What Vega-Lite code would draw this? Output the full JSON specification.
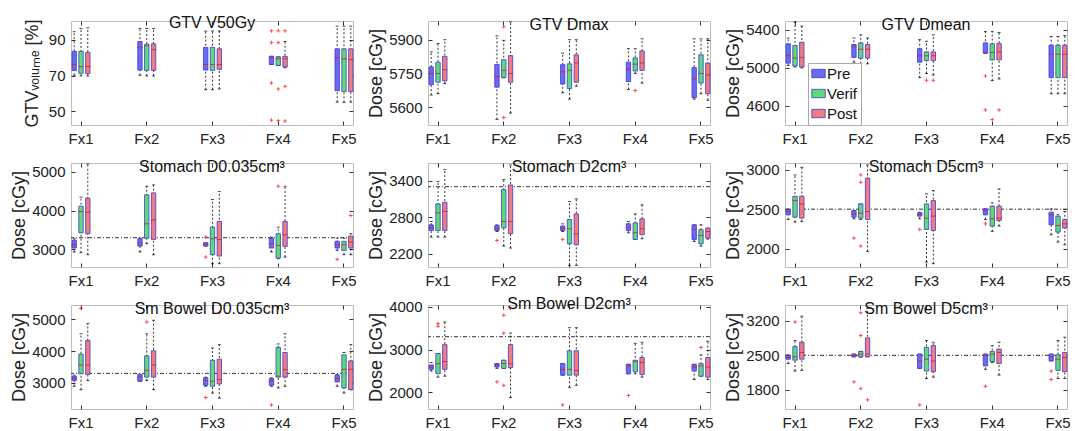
{
"$schema":"https://vega.github.io/schema/vega-lite/v6.json",
"autosize":{"type":"pad"},
"padding":{"left":9,"top":14,"right":0,"bottom":0},
"data":{"values":[
{"k":"b","p":1,"f":"Fx1","g":"Pre","lo":70.2,"q1":72.9,"m":76.1,"q3":83.6,"hi":94.6},
{"k":"b","p":1,"f":"Fx1","g":"Verif","lo":69.8,"q1":71.3,"m":75.0,"q3":83.6,"hi":96.4},
{"k":"b","p":1,"f":"Fx1","g":"Post","lo":69.8,"q1":71.1,"m":75.1,"q3":83.0,"hi":96.8},
{"k":"b","p":1,"f":"Fx2","g":"Pre","lo":70.2,"q1":73.1,"m":85.6,"q3":89.1,"hi":96.4},
{"k":"b","p":1,"f":"Fx2","g":"Verif","lo":69.8,"q1":72.9,"m":86.7,"q3":87.6,"hi":96.4},
{"k":"b","p":1,"f":"Fx2","g":"Post","lo":69.8,"q1":72.9,"m":84.5,"q3":87.8,"hi":96.4},
{"k":"b","p":1,"f":"Fx3","g":"Pre","lo":62.1,"q1":73.1,"m":76.2,"q3":85.8,"hi":94.9},
{"k":"b","p":1,"f":"Fx3","g":"Verif","lo":62.1,"q1":72.9,"m":76.2,"q3":85.8,"hi":95.0},
{"k":"b","p":1,"f":"Fx3","g":"Post","lo":62.5,"q1":73.5,"m":76.1,"q3":85.0,"hi":95.0},
{"k":"b","p":1,"f":"Fx4","g":"Pre","lo":76.2,"q1":76.2,"m":79.9,"q3":80.8,"hi":80.8},
{"k":"b","p":1,"f":"Fx4","g":"Verif","lo":75.7,"q1":75.7,"m":79.5,"q3":80.5,"hi":80.5},
{"k":"b","p":1,"f":"Fx4","g":"Post","lo":74.4,"q1":74.8,"m":79.5,"q3":80.8,"hi":89.1},
{"k":"b","p":1,"f":"Fx5","g":"Pre","lo":55.1,"q1":61.5,"m":79.9,"q3":85.0,"hi":97.7},
{"k":"b","p":1,"f":"Fx5","g":"Verif","lo":55.0,"q1":61.0,"m":79.4,"q3":85.0,"hi":97.7},
{"k":"b","p":1,"f":"Fx5","g":"Post","lo":55.1,"q1":61.0,"m":79.0,"q3":85.0,"hi":97.7},
{"k":"o","p":1,"f":"Fx4","g":"Pre","v":95.1},{"k":"o","p":1,"f":"Fx4","g":"Pre","v":88.5},{"k":"o","p":1,"f":"Fx4","g":"Pre","v":65.8},{"k":"o","p":1,"f":"Fx4","g":"Pre","v":45.0},
{"k":"o","p":1,"f":"Fx4","g":"Verif","v":95.1},{"k":"o","p":1,"f":"Fx4","g":"Verif","v":88.5},{"k":"o","p":1,"f":"Fx4","g":"Verif","v":62.5},{"k":"o","p":1,"f":"Fx4","g":"Verif","v":44.7},
{"k":"o","p":1,"f":"Fx4","g":"Post","v":95.1},{"k":"o","p":1,"f":"Fx4","g":"Post","v":64.0},{"k":"o","p":1,"f":"Fx4","g":"Post","v":44.5},

{"k":"b","p":2,"f":"Fx1","g":"Pre","lo":5654,"q1":5700,"m":5750,"q3":5779,"hi":5846},
{"k":"b","p":2,"f":"Fx1","g":"Verif","lo":5660,"q1":5711,"m":5750,"q3":5800,"hi":5883},
{"k":"b","p":2,"f":"Fx1","g":"Post","lo":5705,"q1":5717,"m":5767,"q3":5826,"hi":5900},
{"k":"b","p":2,"f":"Fx2","g":"Pre","lo":5546,"q1":5689,"m":5736,"q3":5790,"hi":5917},
{"k":"b","p":2,"f":"Fx2","g":"Verif","lo":5731,"q1":5731,"m":5764,"q3":5811,"hi":5897},
{"k":"b","p":2,"f":"Fx2","g":"Post","lo":5574,"q1":5711,"m":5750,"q3":5829,"hi":5979},
{"k":"b","p":2,"f":"Fx3","g":"Pre","lo":5664,"q1":5703,"m":5757,"q3":5789,"hi":5840},
{"k":"b","p":2,"f":"Fx3","g":"Verif","lo":5636,"q1":5683,"m":5764,"q3":5793,"hi":5900},
{"k":"b","p":2,"f":"Fx3","g":"Post","lo":5693,"q1":5711,"m":5797,"q3":5833,"hi":5900},
{"k":"b","p":2,"f":"Fx4","g":"Pre","lo":5679,"q1":5714,"m":5769,"q3":5800,"hi":5860},
{"k":"b","p":2,"f":"Fx4","g":"Verif","lo":5750,"q1":5761,"m":5791,"q3":5819,"hi":5860},
{"k":"b","p":2,"f":"Fx4","g":"Post","lo":5707,"q1":5764,"m":5797,"q3":5850,"hi":5904},
{"k":"b","p":2,"f":"Fx5","g":"Pre","lo":5636,"q1":5643,"m":5726,"q3":5776,"hi":5904},
{"k":"b","p":2,"f":"Fx5","g":"Verif","lo":5660,"q1":5707,"m":5750,"q3":5833,"hi":5904},
{"k":"b","p":2,"f":"Fx5","g":"Post","lo":5631,"q1":5660,"m":5743,"q3":5796,"hi":5904},
{"k":"o","p":2,"f":"Fx2","g":"Verif","v":5957},{"k":"o","p":2,"f":"Fx2","g":"Verif","v":5554},{"k":"o","p":2,"f":"Fx4","g":"Verif","v":5674},

{"k":"b","p":3,"f":"Fx1","g":"Pre","lo":5026,"q1":5050,"m":5128,"q3":5254,"hi":5315},
{"k":"b","p":3,"f":"Fx1","g":"Verif","lo":5009,"q1":5019,"m":5104,"q3":5237,"hi":5485},
{"k":"b","p":3,"f":"Fx1","g":"Post","lo":4999,"q1":5009,"m":5111,"q3":5271,"hi":5441},
{"k":"b","p":3,"f":"Fx2","g":"Pre","lo":5060,"q1":5111,"m":5230,"q3":5247,"hi":5315},
{"k":"b","p":3,"f":"Fx2","g":"Verif","lo":5043,"q1":5101,"m":5196,"q3":5264,"hi":5349},
{"k":"b","p":3,"f":"Fx2","g":"Post","lo":5043,"q1":5104,"m":5196,"q3":5247,"hi":5315},
{"k":"b","p":3,"f":"Fx3","g":"Pre","lo":4897,"q1":5060,"m":5128,"q3":5203,"hi":5298},
{"k":"b","p":3,"f":"Fx3","g":"Verif","lo":4941,"q1":5077,"m":5128,"q3":5169,"hi":5281},
{"k":"b","p":3,"f":"Fx3","g":"Post","lo":4924,"q1":5077,"m":5128,"q3":5169,"hi":5349},
{"k":"b","p":3,"f":"Fx4","g":"Pre","lo":5155,"q1":5155,"m":5162,"q3":5264,"hi":5383},
{"k":"b","p":3,"f":"Fx4","g":"Verif","lo":4866,"q1":5084,"m":5162,"q3":5254,"hi":5383},
{"k":"b","p":3,"f":"Fx4","g":"Post","lo":4883,"q1":5084,"m":5169,"q3":5257,"hi":5373},
{"k":"b","p":3,"f":"Fx5","g":"Pre","lo":4727,"q1":4897,"m":5145,"q3":5240,"hi":5332},
{"k":"b","p":3,"f":"Fx5","g":"Verif","lo":4727,"q1":4897,"m":5145,"q3":5240,"hi":5332},
{"k":"b","p":3,"f":"Fx5","g":"Post","lo":4727,"q1":4897,"m":5145,"q3":5240,"hi":5340},
{"k":"o","p":3,"f":"Fx3","g":"Verif","v":4869},{"k":"o","p":3,"f":"Fx3","g":"Post","v":4869},
{"k":"o","p":3,"f":"Fx4","g":"Pre","v":4914},{"k":"o","p":3,"f":"Fx4","g":"Pre","v":4556},{"k":"o","p":3,"f":"Fx4","g":"Verif","v":4454},{"k":"o","p":3,"f":"Fx4","g":"Post","v":4556},

{"k":"b","p":4,"f":"Fx1","g":"Pre","lo":2932,"q1":3034,"m":3120,"q3":3231,"hi":3274},
{"k":"b","p":4,"f":"Fx1","g":"Verif","lo":2915,"q1":3427,"m":3974,"q3":4111,"hi":4342},
{"k":"b","p":4,"f":"Fx1","g":"Post","lo":2863,"q1":3402,"m":3957,"q3":4316,"hi":5197},
{"k":"b","p":4,"f":"Fx2","g":"Pre","lo":2932,"q1":3085,"m":3171,"q3":3274,"hi":3290},
{"k":"b","p":4,"f":"Fx2","g":"Verif","lo":3145,"q1":3291,"m":3658,"q3":4402,"hi":4624},
{"k":"b","p":4,"f":"Fx2","g":"Post","lo":2863,"q1":3256,"m":3761,"q3":4453,"hi":4658},
{"k":"b","p":4,"f":"Fx3","g":"Pre","lo":3085,"q1":3085,"m":3128,"q3":3171,"hi":3171},
{"k":"b","p":4,"f":"Fx3","g":"Verif","lo":2632,"q1":2863,"m":3274,"q3":3573,"hi":4282},
{"k":"b","p":4,"f":"Fx3","g":"Post","lo":2632,"q1":2829,"m":3256,"q3":3718,"hi":4487},
{"k":"b","p":4,"f":"Fx4","g":"Pre","lo":2932,"q1":3034,"m":3145,"q3":3291,"hi":3316},
{"k":"b","p":4,"f":"Fx4","g":"Verif","lo":2760,"q1":2778,"m":3103,"q3":3402,"hi":3573},
{"k":"b","p":4,"f":"Fx4","g":"Post","lo":2803,"q1":3077,"m":3376,"q3":3718,"hi":4624},
{"k":"b","p":4,"f":"Fx5","g":"Pre","lo":2974,"q1":3034,"m":3120,"q3":3205,"hi":3290},
{"k":"b","p":4,"f":"Fx5","g":"Verif","lo":2863,"q1":2974,"m":3120,"q3":3205,"hi":3290},
{"k":"b","p":4,"f":"Fx5","g":"Post","lo":2863,"q1":3034,"m":3188,"q3":3342,"hi":3402},
{"k":"o","p":4,"f":"Fx3","g":"Pre","v":3316},{"k":"o","p":4,"f":"Fx3","g":"Pre","v":2803},{"k":"o","p":4,"f":"Fx4","g":"Verif","v":4624},{"k":"o","p":4,"f":"Fx5","g":"Pre","v":2744},{"k":"o","p":4,"f":"Fx5","g":"Post","v":3872},
{"k":"r","p":4,"v":3300},

{"k":"b","p":5,"f":"Fx1","g":"Pre","lo":2473,"q1":2582,"m":2631,"q3":2674,"hi":2729},
{"k":"b","p":5,"f":"Fx1","g":"Verif","lo":2473,"q1":2582,"m":2871,"q3":3018,"hi":3384},
{"k":"b","p":5,"f":"Fx1","g":"Post","lo":2473,"q1":2582,"m":2893,"q3":3045,"hi":3580},
{"k":"b","p":5,"f":"Fx2","g":"Pre","lo":2565,"q1":2582,"m":2620,"q3":2663,"hi":2674},
{"k":"b","p":5,"f":"Fx2","g":"Verif","lo":2325,"q1":2625,"m":2729,"q3":3253,"hi":3416},
{"k":"b","p":5,"f":"Fx2","g":"Post","lo":2293,"q1":2527,"m":2729,"q3":3329,"hi":3656},
{"k":"b","p":5,"f":"Fx3","g":"Pre","lo":2565,"q1":2582,"m":2620,"q3":2653,"hi":2690},
{"k":"b","p":5,"f":"Fx3","g":"Verif","lo":2009,"q1":2363,"m":2609,"q3":2762,"hi":3056},
{"k":"b","p":5,"f":"Fx3","g":"Post","lo":2009,"q1":2347,"m":2527,"q3":2854,"hi":3100},
{"k":"b","p":5,"f":"Fx4","g":"Pre","lo":2544,"q1":2582,"m":2636,"q3":2691,"hi":2729},
{"k":"b","p":5,"f":"Fx4","g":"Verif","lo":2434,"q1":2434,"m":2544,"q3":2707,"hi":2854},
{"k":"b","p":5,"f":"Fx4","g":"Post","lo":2445,"q1":2511,"m":2609,"q3":2773,"hi":3002},
{"k":"b","p":5,"f":"Fx5","g":"Pre","lo":2402,"q1":2434,"m":2598,"q3":2674,"hi":2674},
{"k":"b","p":5,"f":"Fx5","g":"Verif","lo":2325,"q1":2363,"m":2500,"q3":2593,"hi":2674},
{"k":"b","p":5,"f":"Fx5","g":"Post","lo":2440,"q1":2456,"m":2565,"q3":2620,"hi":2620},
{"k":"o","p":5,"f":"Fx2","g":"Pre","v":2418},{"k":"o","p":5,"f":"Fx3","g":"Pre","v":2434},
{"k":"r","p":5,"v":3300},

{"k":"b","p":6,"f":"Fx1","g":"Pre","lo":2370,"q1":2429,"m":2471,"q3":2496,"hi":2504},
{"k":"b","p":6,"f":"Fx1","g":"Verif","lo":2336,"q1":2399,"m":2609,"q3":2664,"hi":2933},
{"k":"b","p":6,"f":"Fx1","g":"Post","lo":2345,"q1":2387,"m":2567,"q3":2664,"hi":3029},
{"k":"b","p":6,"f":"Fx2","g":"Pre","lo":2378,"q1":2399,"m":2441,"q3":2483,"hi":2483},
{"k":"b","p":6,"f":"Fx2","g":"Verif","lo":2370,"q1":2387,"m":2450,"q3":2567,"hi":2567},
{"k":"b","p":6,"f":"Fx2","g":"Post","lo":1966,"q1":2370,"m":2471,"q3":2891,"hi":3059},
{"k":"b","p":6,"f":"Fx3","g":"Pre","lo":2378,"q1":2412,"m":2437,"q3":2454,"hi":2462},
{"k":"b","p":6,"f":"Fx3","g":"Verif","lo":1832,"q1":2244,"m":2387,"q3":2567,"hi":2693},
{"k":"b","p":6,"f":"Fx3","g":"Post","lo":1811,"q1":2231,"m":2412,"q3":2609,"hi":2735},
{"k":"b","p":6,"f":"Fx4","g":"Pre","lo":2370,"q1":2429,"m":2483,"q3":2504,"hi":2504},
{"k":"b","p":6,"f":"Fx4","g":"Verif","lo":2219,"q1":2286,"m":2378,"q3":2538,"hi":2580},
{"k":"b","p":6,"f":"Fx4","g":"Post","lo":2286,"q1":2357,"m":2387,"q3":2538,"hi":2756},
{"k":"b","p":6,"f":"Fx5","g":"Pre","lo":2176,"q1":2303,"m":2429,"q3":2462,"hi":2504},
{"k":"b","p":6,"f":"Fx5","g":"Verif","lo":2084,"q1":2210,"m":2294,"q3":2412,"hi":2429},
{"k":"b","p":6,"f":"Fx5","g":"Post","lo":2050,"q1":2261,"m":2315,"q3":2370,"hi":2471},
{"k":"o","p":6,"f":"Fx2","g":"Pre","v":2134},{"k":"o","p":6,"f":"Fx2","g":"Verif","v":2933},{"k":"o","p":6,"f":"Fx2","g":"Verif","v":2840},{"k":"o","p":6,"f":"Fx2","g":"Verif","v":2034},
{"k":"o","p":6,"f":"Fx3","g":"Pre","v":2244},{"k":"o","p":6,"f":"Fx4","g":"Pre","v":2315},
{"k":"r","p":6,"v":2500},

{"k":"b","p":7,"f":"Fx1","g":"Pre","lo":2894,"q1":3074,"m":3138,"q3":3213,"hi":3245},
{"k":"b","p":7,"f":"Fx1","g":"Verif","lo":2787,"q1":3287,"m":3564,"q3":3904,"hi":4543},
{"k":"b","p":7,"f":"Fx1","g":"Post","lo":3074,"q1":3266,"m":3564,"q3":4330,"hi":4862},
{"k":"b","p":7,"f":"Fx2","g":"Pre","lo":3053,"q1":3053,"m":3181,"q3":3266,"hi":3266},
{"k":"b","p":7,"f":"Fx2","g":"Verif","lo":3074,"q1":3181,"m":3394,"q3":3851,"hi":4543},
{"k":"b","p":7,"f":"Fx2","g":"Post","lo":2787,"q1":3181,"m":3564,"q3":4011,"hi":4968},
{"k":"b","p":7,"f":"Fx3","g":"Pre","lo":2894,"q1":2926,"m":3074,"q3":3160,"hi":3181},
{"k":"b","p":7,"f":"Fx3","g":"Verif","lo":2681,"q1":2894,"m":3053,"q3":3713,"hi":4096},
{"k":"b","p":7,"f":"Fx3","g":"Post","lo":2521,"q1":2968,"m":3106,"q3":3745,"hi":4202},
{"k":"b","p":7,"f":"Fx4","g":"Pre","lo":2894,"q1":2926,"m":3074,"q3":3138,"hi":3160},
{"k":"b","p":7,"f":"Fx4","g":"Verif","lo":2840,"q1":3181,"m":3213,"q3":4117,"hi":4223},
{"k":"b","p":7,"f":"Fx4","g":"Post","lo":2894,"q1":3181,"m":3426,"q3":3957,"hi":4543},
{"k":"b","p":7,"f":"Fx5","g":"Pre","lo":2894,"q1":3032,"m":3138,"q3":3245,"hi":3266},
{"k":"b","p":7,"f":"Fx5","g":"Verif","lo":2681,"q1":2840,"m":3426,"q3":3883,"hi":3957},
{"k":"b","p":7,"f":"Fx5","g":"Post","lo":2787,"q1":2787,"m":3426,"q3":3691,"hi":4202},
{"k":"o","p":7,"f":"Fx1","g":"Verif","v":5340},{"k":"o","p":7,"f":"Fx2","g":"Verif","v":4915},{"k":"o","p":7,"f":"Fx3","g":"Pre","v":2543},{"k":"o","p":7,"f":"Fx3","g":"Post","v":5202},{"k":"o","p":7,"f":"Fx4","g":"Pre","v":2309},
{"k":"r","p":7,"v":3300},

{"k":"b","p":8,"f":"Fx1","g":"Pre","lo":2498,"q1":2538,"m":2593,"q3":2640,"hi":2696},
{"k":"b","p":8,"f":"Fx1","g":"Verif","lo":2356,"q1":2435,"m":2672,"q3":2909,"hi":2909},
{"k":"b","p":8,"f":"Fx1","g":"Post","lo":2379,"q1":2538,"m":2719,"q3":3115,"hi":3644},
{"k":"b","p":8,"f":"Fx2","g":"Pre","lo":2561,"q1":2593,"m":2640,"q3":2672,"hi":2672},
{"k":"b","p":8,"f":"Fx2","g":"Verif","lo":2561,"q1":2561,"m":2672,"q3":2751,"hi":2751},
{"k":"b","p":8,"f":"Fx2","g":"Post","lo":1881,"q1":2577,"m":2672,"q3":3115,"hi":3383},
{"k":"b","p":8,"f":"Fx3","g":"Pre","lo":2403,"q1":2403,"m":2538,"q3":2672,"hi":2672},
{"k":"b","p":8,"f":"Fx3","g":"Verif","lo":2119,"q1":2403,"m":2538,"q3":2972,"hi":3510},
{"k":"b","p":8,"f":"Fx3","g":"Post","lo":2166,"q1":2403,"m":2514,"q3":2972,"hi":3510},
{"k":"b","p":8,"f":"Fx4","g":"Pre","lo":2435,"q1":2435,"m":2617,"q3":2656,"hi":2656},
{"k":"b","p":8,"f":"Fx4","g":"Verif","lo":2435,"q1":2482,"m":2719,"q3":2751,"hi":3146},
{"k":"b","p":8,"f":"Fx4","g":"Post","lo":2356,"q1":2419,"m":2696,"q3":2814,"hi":3170},
{"k":"b","p":8,"f":"Fx5","g":"Pre","lo":2300,"q1":2498,"m":2593,"q3":2656,"hi":2656},
{"k":"b","p":8,"f":"Fx5","g":"Verif","lo":2379,"q1":2379,"m":2617,"q3":2672,"hi":2877},
{"k":"b","p":8,"f":"Fx5","g":"Post","lo":2300,"q1":2356,"m":2593,"q3":2814,"hi":3194},
{"k":"o","p":8,"f":"Fx1","g":"Verif","v":3605},{"k":"o","p":8,"f":"Fx1","g":"Verif","v":3542},{"k":"o","p":8,"f":"Fx2","g":"Pre","v":2245},
{"k":"o","p":8,"f":"Fx2","g":"Verif","v":3802},{"k":"o","p":8,"f":"Fx2","g":"Verif","v":3383},{"k":"o","p":8,"f":"Fx2","g":"Verif","v":2166},{"k":"o","p":8,"f":"Fx2","g":"Post","v":3960},
{"k":"o","p":8,"f":"Fx3","g":"Pre","v":1708},{"k":"o","p":8,"f":"Fx4","g":"Pre","v":1929},{"k":"o","p":8,"f":"Fx5","g":"Verif","v":3051},
{"k":"r","p":8,"v":3300},

{"k":"b","p":9,"f":"Fx1","g":"Pre","lo":2331,"q1":2421,"m":2455,"q3":2490,"hi":2510},
{"k":"b","p":9,"f":"Fx1","g":"Verif","lo":2179,"q1":2400,"m":2469,"q3":2676,"hi":2800},
{"k":"b","p":9,"f":"Fx1","g":"Post","lo":2193,"q1":2421,"m":2559,"q3":2766,"hi":3297},
{"k":"b","p":9,"f":"Fx2","g":"Pre","lo":2469,"q1":2469,"m":2503,"q3":2524,"hi":2524},
{"k":"b","p":9,"f":"Fx2","g":"Verif","lo":2462,"q1":2469,"m":2524,"q3":2579,"hi":2579},
{"k":"b","p":9,"f":"Fx2","g":"Post","lo":2469,"q1":2469,"m":2524,"q3":2855,"hi":3455},
{"k":"b","p":9,"f":"Fx3","g":"Pre","lo":2234,"q1":2234,"m":2386,"q3":2524,"hi":2524},
{"k":"b","p":9,"f":"Fx3","g":"Verif","lo":2028,"q1":2179,"m":2421,"q3":2662,"hi":2800},
{"k":"b","p":9,"f":"Fx3","g":"Post","lo":2055,"q1":2166,"m":2386,"q3":2697,"hi":2766},
{"k":"b","p":9,"f":"Fx4","g":"Pre","lo":2214,"q1":2283,"m":2490,"q3":2524,"hi":2524},
{"k":"b","p":9,"f":"Fx4","g":"Verif","lo":2352,"q1":2372,"m":2524,"q3":2579,"hi":2697},
{"k":"b","p":9,"f":"Fx4","g":"Post","lo":2097,"q1":2331,"m":2559,"q3":2628,"hi":2766},
{"k":"b","p":9,"f":"Fx5","g":"Pre","lo":2386,"q1":2386,"m":2469,"q3":2524,"hi":2524},
{"k":"b","p":9,"f":"Fx5","g":"Verif","lo":2028,"q1":2193,"m":2421,"q3":2510,"hi":2800},
{"k":"b","p":9,"f":"Fx5","g":"Post","lo":2028,"q1":2166,"m":2455,"q3":2559,"hi":2869},
{"k":"o","p":9,"f":"Fx1","g":"Verif","v":3179},{"k":"o","p":9,"f":"Fx2","g":"Pre","v":1959},{"k":"o","p":9,"f":"Fx2","g":"Verif","v":3366},{"k":"o","p":9,"f":"Fx2","g":"Verif","v":2903},{"k":"o","p":9,"f":"Fx2","g":"Verif","v":1821},{"k":"o","p":9,"f":"Fx2","g":"Post","v":1593},
{"k":"o","p":9,"f":"Fx3","g":"Pre","v":1490},{"k":"o","p":9,"f":"Fx4","g":"Pre","v":1869},{"k":"o","p":9,"f":"Fx5","g":"Pre","v":2179},{"k":"o","p":9,"f":"Fx5","g":"Pre","v":2007},
{"k":"r","p":9,"v":2500}
]},
"columns":3,
"spacing":{"row":38,"column":75},
"bounds":"flush",
"concat":[
{"width":282,"height":104,"title":"GTV V50Gy","transform":[{"filter":"datum.p==1"}],"resolve":{"axis":{"x":"independent","y":"independent"}},
"layer":[
{"transform":[{"filter":"datum.k=='b'"}],"mark":{"type":"rule","strokeDash":[2,2],"color":"#000","strokeWidth":0.8},
"encoding":{"x":{"field":"f","type":"nominal","scale":{"type":"band","range":[-0.2,283.2],"paddingInner":0.6897,"paddingOuter":0},"axis":{"title":null}},"xOffset":{"field":"g","type":"nominal","scale":{"domain":["Pre","Verif","Post"],"paddingInner":0.353,"paddingOuter":0.1765}},
"y":{"field":"lo","type":"quantitative","scale":{"domain":[42.3,100.6],"nice":false,"zero":false},"axis":{"values":[50,70,90],"format":"d","title":"GTVᵥₒₗᵤₘₑ [%]","minExtent":24,"maxExtent":24,"titlePadding":6}},"y2":{"field":"hi"}}},
{"transform":[{"filter":"datum.k=='b'"}],"mark":{"type":"tick","orient":"horizontal","size":3,"thickness":1,"color":"#000"},"encoding":{"x":{"field":"f","type":"nominal","axis":null},"xOffset":{"field":"g","type":"nominal"},"y":{"field":"lo","type":"quantitative","axis":null}}},
{"transform":[{"filter":"datum.k=='b'"}],"mark":{"type":"tick","orient":"horizontal","size":3,"thickness":1,"color":"#000"},"encoding":{"x":{"field":"f","type":"nominal","axis":null},"xOffset":{"field":"g","type":"nominal"},"y":{"field":"hi","type":"quantitative","axis":null}}},
{"transform":[{"filter":"datum.k=='b'"}],"mark":{"type":"bar","stroke":"#3b3bd6","strokeWidth":0.8},"encoding":{"x":{"field":"f","type":"nominal","axis":null},"xOffset":{"field":"g","type":"nominal"},"y":{"field":"q1","type":"quantitative","axis":null},"y2":{"field":"q3"},"color":{"field":"g","type":"nominal","scale":{"domain":["Pre","Verif","Post"],"range":["#6b6bf0","#5cdc76","#f27c7c"]},"title":null}}},
{"transform":[{"filter":"datum.k=='b'"}],"mark":{"type":"tick","orient":"horizontal","size":5,"thickness":1,"color":"#e01818","opacity":0.8},"encoding":{"x":{"field":"f","type":"nominal","axis":{"orient":"top","labels":false,"title":null,"minExtent":0,"maxExtent":0}},"xOffset":{"field":"g","type":"nominal"},"y":{"field":"m","type":"quantitative","axis":{"orient":"right","values":[50,70,90],"labels":false,"title":null,"minExtent":0,"maxExtent":0}}}},
{"transform":[{"filter":"datum.k=='o'"}],"mark":{"type":"point","shape":"M-1,0H1M0,-1V1","size":14,"stroke":"#ff0000","strokeWidth":1,"filled":false},"encoding":{"x":{"field":"f","type":"nominal","axis":null},"xOffset":{"field":"g","type":"nominal"},"y":{"field":"v","type":"quantitative","axis":null}}}
]},
{"width":282,"height":104,"title":"GTV Dmax","transform":[{"filter":"datum.p==2"}],"resolve":{"axis":{"x":"independent","y":"independent"}},
"layer":[
{"transform":[{"filter":"datum.k=='b'"}],"mark":{"type":"rule","strokeDash":[2,2],"color":"#000","strokeWidth":0.8},
"encoding":{"x":{"field":"f","type":"nominal","scale":{"type":"band","range":[-0.2,283.2],"paddingInner":0.6897,"paddingOuter":0},"axis":{"title":null}},"xOffset":{"field":"g","type":"nominal","scale":{"domain":["Pre","Verif","Post"],"paddingInner":0.353,"paddingOuter":0.1765}},
"y":{"field":"lo","type":"quantitative","scale":{"domain":[5521,5983],"nice":false,"zero":false},"axis":{"values":[5600,5750,5900],"format":"d","title":"Dose [cGy]","minExtent":40,"maxExtent":40,"titlePadding":3}},"y2":{"field":"hi"}}},
{"transform":[{"filter":"datum.k=='b'"}],"mark":{"type":"tick","orient":"horizontal","size":3,"thickness":1,"color":"#000"},"encoding":{"x":{"field":"f","type":"nominal","axis":null},"xOffset":{"field":"g","type":"nominal"},"y":{"field":"lo","type":"quantitative","axis":null}}},
{"transform":[{"filter":"datum.k=='b'"}],"mark":{"type":"tick","orient":"horizontal","size":3,"thickness":1,"color":"#000"},"encoding":{"x":{"field":"f","type":"nominal","axis":null},"xOffset":{"field":"g","type":"nominal"},"y":{"field":"hi","type":"quantitative","axis":null}}},
{"transform":[{"filter":"datum.k=='b'"}],"mark":{"type":"bar","stroke":"#3b3bd6","strokeWidth":0.8},"encoding":{"x":{"field":"f","type":"nominal","axis":null},"xOffset":{"field":"g","type":"nominal"},"y":{"field":"q1","type":"quantitative","axis":null},"y2":{"field":"q3"},"color":{"field":"g","type":"nominal","title":null}}},
{"transform":[{"filter":"datum.k=='b'"}],"mark":{"type":"tick","orient":"horizontal","size":5,"thickness":1,"color":"#e01818","opacity":0.8},"encoding":{"x":{"field":"f","type":"nominal","axis":{"orient":"top","labels":false,"title":null,"minExtent":0,"maxExtent":0}},"xOffset":{"field":"g","type":"nominal"},"y":{"field":"m","type":"quantitative","axis":{"orient":"right","values":[5600,5750,5900],"labels":false,"title":null,"minExtent":0,"maxExtent":0}}}},
{"transform":[{"filter":"datum.k=='o'"}],"mark":{"type":"point","shape":"M-1,0H1M0,-1V1","size":14,"stroke":"#ff0000","strokeWidth":1,"filled":false},"encoding":{"x":{"field":"f","type":"nominal","axis":null},"xOffset":{"field":"g","type":"nominal"},"y":{"field":"v","type":"quantitative","axis":null}}}
]},
{"width":282,"height":104,"title":"GTV Dmean","transform":[{"filter":"datum.p==3"}],"resolve":{"axis":{"x":"independent","y":"independent"}},
"layer":[
{"transform":[{"filter":"datum.k=='b'"}],"mark":{"type":"rule","strokeDash":[2,2],"color":"#000","strokeWidth":0.8},
"encoding":{"x":{"field":"f","type":"nominal","scale":{"type":"band","range":[-0.2,283.2],"paddingInner":0.6897,"paddingOuter":0},"axis":{"title":null}},"xOffset":{"field":"g","type":"nominal","scale":{"domain":["Pre","Verif","Post"],"paddingInner":0.353,"paddingOuter":0.1765}},
"y":{"field":"lo","type":"quantitative","scale":{"domain":[4397,5495],"nice":false,"zero":false},"axis":{"values":[4600,5000,5400],"format":"d","title":"Dose [cGy]","minExtent":40,"maxExtent":40,"titlePadding":3}},"y2":{"field":"hi"}}},
{"transform":[{"filter":"datum.k=='b'"}],"mark":{"type":"tick","orient":"horizontal","size":3,"thickness":1,"color":"#000"},"encoding":{"x":{"field":"f","type":"nominal","axis":null},"xOffset":{"field":"g","type":"nominal"},"y":{"field":"lo","type":"quantitative","axis":null}}},
{"transform":[{"filter":"datum.k=='b'"}],"mark":{"type":"tick","orient":"horizontal","size":3,"thickness":1,"color":"#000"},"encoding":{"x":{"field":"f","type":"nominal","axis":null},"xOffset":{"field":"g","type":"nominal"},"y":{"field":"hi","type":"quantitative","axis":null}}},
{"transform":[{"filter":"datum.k=='b'"}],"mark":{"type":"bar","stroke":"#3b3bd6","strokeWidth":0.8},"encoding":{"x":{"field":"f","type":"nominal","axis":null},"xOffset":{"field":"g","type":"nominal"},"y":{"field":"q1","type":"quantitative","axis":null},"y2":{"field":"q3"},"color":{"field":"g","type":"nominal","title":null,"legend":{"orient":"none","legendX":737,"legendY":42,"symbolType":"M-1.6,-1H1.6V1H-1.6Z","symbolSize":70,"symbolStrokeColor":"#3b3bd6","symbolStrokeWidth":0.8,"labelFontSize":15,"labelOffset":1,"rowPadding":4,"padding":3,"strokeColor":"#aaaaaa","fillColor":"#ffffff","labelColor":"#111111"}}}},
{"transform":[{"filter":"datum.k=='b'"}],"mark":{"type":"tick","orient":"horizontal","size":5,"thickness":1,"color":"#e01818","opacity":0.8},"encoding":{"x":{"field":"f","type":"nominal","axis":{"orient":"top","labels":false,"title":null,"minExtent":0,"maxExtent":0}},"xOffset":{"field":"g","type":"nominal"},"y":{"field":"m","type":"quantitative","axis":{"orient":"right","values":[4600,5000,5400],"labels":false,"title":null,"minExtent":0,"maxExtent":0}}}},
{"transform":[{"filter":"datum.k=='o'"}],"mark":{"type":"point","shape":"M-1,0H1M0,-1V1","size":14,"stroke":"#ff0000","strokeWidth":1,"filled":false},"encoding":{"x":{"field":"f","type":"nominal","axis":null},"xOffset":{"field":"g","type":"nominal"},"y":{"field":"v","type":"quantitative","axis":null}}}
]},
{"width":282,"height":104,"title":"Stomach D0.035cm³","transform":[{"filter":"datum.p==4"}],"resolve":{"axis":{"x":"independent","y":"independent"}},
"layer":[
{"transform":[{"filter":"datum.k=='b'"}],"mark":{"type":"rule","strokeDash":[2,2],"color":"#000","strokeWidth":0.8},
"encoding":{"x":{"field":"f","type":"nominal","scale":{"type":"band","range":[-0.2,283.2],"paddingInner":0.6897,"paddingOuter":0},"axis":{"title":null}},"xOffset":{"field":"g","type":"nominal","scale":{"domain":["Pre","Verif","Post"],"paddingInner":0.353,"paddingOuter":0.1765}},
"y":{"field":"lo","type":"quantitative","scale":{"domain":[2547,5222],"nice":false,"zero":false},"axis":{"values":[3000,4000,5000],"format":"d","title":"Dose [cGy]","minExtent":40,"maxExtent":40,"titlePadding":3}},"y2":{"field":"hi"}}},
{"transform":[{"filter":"datum.k=='b'"}],"mark":{"type":"tick","orient":"horizontal","size":3,"thickness":1,"color":"#000"},"encoding":{"x":{"field":"f","type":"nominal","axis":null},"xOffset":{"field":"g","type":"nominal"},"y":{"field":"lo","type":"quantitative","axis":null}}},
{"transform":[{"filter":"datum.k=='b'"}],"mark":{"type":"tick","orient":"horizontal","size":3,"thickness":1,"color":"#000"},"encoding":{"x":{"field":"f","type":"nominal","axis":null},"xOffset":{"field":"g","type":"nominal"},"y":{"field":"hi","type":"quantitative","axis":null}}},
{"transform":[{"filter":"datum.k=='r'"}],"mark":{"type":"rule","strokeDash":[4,2,1,2],"color":"#333","strokeWidth":1},"encoding":{"y":{"field":"v","type":"quantitative","axis":null}}},
{"transform":[{"filter":"datum.k=='b'"}],"mark":{"type":"bar","stroke":"#3b3bd6","strokeWidth":0.8},"encoding":{"x":{"field":"f","type":"nominal","axis":null},"xOffset":{"field":"g","type":"nominal"},"y":{"field":"q1","type":"quantitative","axis":null},"y2":{"field":"q3"},"color":{"field":"g","type":"nominal","title":null}}},
{"transform":[{"filter":"datum.k=='b'"}],"mark":{"type":"tick","orient":"horizontal","size":5,"thickness":1,"color":"#e01818","opacity":0.8},"encoding":{"x":{"field":"f","type":"nominal","axis":{"orient":"top","labels":false,"title":null,"minExtent":0,"maxExtent":0}},"xOffset":{"field":"g","type":"nominal"},"y":{"field":"m","type":"quantitative","axis":{"orient":"right","values":[3000,4000,5000],"labels":false,"title":null,"minExtent":0,"maxExtent":0}}}},
{"transform":[{"filter":"datum.k=='o'"}],"mark":{"type":"point","shape":"M-1,0H1M0,-1V1","size":14,"stroke":"#ff0000","strokeWidth":1,"filled":false},"encoding":{"x":{"field":"f","type":"nominal","axis":null},"xOffset":{"field":"g","type":"nominal"},"y":{"field":"v","type":"quantitative","axis":null}}}
]},
{"width":282,"height":104,"title":"Stomach D2cm³","transform":[{"filter":"datum.p==5"}],"resolve":{"axis":{"x":"independent","y":"independent"}},
"layer":[
{"transform":[{"filter":"datum.k=='b'"}],"mark":{"type":"rule","strokeDash":[2,2],"color":"#000","strokeWidth":0.8},
"encoding":{"x":{"field":"f","type":"nominal","scale":{"type":"band","range":[-0.2,283.2],"paddingInner":0.6897,"paddingOuter":0},"axis":{"title":null}},"xOffset":{"field":"g","type":"nominal","scale":{"domain":["Pre","Verif","Post"],"paddingInner":0.353,"paddingOuter":0.1765}},
"y":{"field":"lo","type":"quantitative","scale":{"domain":[1982,3689],"nice":false,"zero":false},"axis":{"values":[2200,2800,3400],"format":"d","title":"Dose [cGy]","minExtent":40,"maxExtent":40,"titlePadding":3}},"y2":{"field":"hi"}}},
{"transform":[{"filter":"datum.k=='b'"}],"mark":{"type":"tick","orient":"horizontal","size":3,"thickness":1,"color":"#000"},"encoding":{"x":{"field":"f","type":"nominal","axis":null},"xOffset":{"field":"g","type":"nominal"},"y":{"field":"lo","type":"quantitative","axis":null}}},
{"transform":[{"filter":"datum.k=='b'"}],"mark":{"type":"tick","orient":"horizontal","size":3,"thickness":1,"color":"#000"},"encoding":{"x":{"field":"f","type":"nominal","axis":null},"xOffset":{"field":"g","type":"nominal"},"y":{"field":"hi","type":"quantitative","axis":null}}},
{"transform":[{"filter":"datum.k=='r'"}],"mark":{"type":"rule","strokeDash":[4,2,1,2],"color":"#333","strokeWidth":1},"encoding":{"y":{"field":"v","type":"quantitative","axis":null}}},
{"transform":[{"filter":"datum.k=='b'"}],"mark":{"type":"bar","stroke":"#3b3bd6","strokeWidth":0.8},"encoding":{"x":{"field":"f","type":"nominal","axis":null},"xOffset":{"field":"g","type":"nominal"},"y":{"field":"q1","type":"quantitative","axis":null},"y2":{"field":"q3"},"color":{"field":"g","type":"nominal","title":null}}},
{"transform":[{"filter":"datum.k=='b'"}],"mark":{"type":"tick","orient":"horizontal","size":5,"thickness":1,"color":"#e01818","opacity":0.8},"encoding":{"x":{"field":"f","type":"nominal","axis":{"orient":"top","labels":false,"title":null,"minExtent":0,"maxExtent":0}},"xOffset":{"field":"g","type":"nominal"},"y":{"field":"m","type":"quantitative","axis":{"orient":"right","values":[2200,2800,3400],"labels":false,"title":null,"minExtent":0,"maxExtent":0}}}},
{"transform":[{"filter":"datum.k=='o'"}],"mark":{"type":"point","shape":"M-1,0H1M0,-1V1","size":14,"stroke":"#ff0000","strokeWidth":1,"filled":false},"encoding":{"x":{"field":"f","type":"nominal","axis":null},"xOffset":{"field":"g","type":"nominal"},"y":{"field":"v","type":"quantitative","axis":null}}}
]},
{"width":282,"height":104,"title":"Stomach D5cm³","transform":[{"filter":"datum.p==6"}],"resolve":{"axis":{"x":"independent","y":"independent"}},
"layer":[
{"transform":[{"filter":"datum.k=='b'"}],"mark":{"type":"rule","strokeDash":[2,2],"color":"#000","strokeWidth":0.8},
"encoding":{"x":{"field":"f","type":"nominal","scale":{"type":"band","range":[-0.2,283.2],"paddingInner":0.6897,"paddingOuter":0},"axis":{"title":null}},"xOffset":{"field":"g","type":"nominal","scale":{"domain":["Pre","Verif","Post"],"paddingInner":0.353,"paddingOuter":0.1765}},
"y":{"field":"lo","type":"quantitative","scale":{"domain":[1769,3084],"nice":false,"zero":false},"axis":{"values":[2000,2500,3000],"format":"d","title":"Dose [cGy]","minExtent":40,"maxExtent":40,"titlePadding":3}},"y2":{"field":"hi"}}},
{"transform":[{"filter":"datum.k=='b'"}],"mark":{"type":"tick","orient":"horizontal","size":3,"thickness":1,"color":"#000"},"encoding":{"x":{"field":"f","type":"nominal","axis":null},"xOffset":{"field":"g","type":"nominal"},"y":{"field":"lo","type":"quantitative","axis":null}}},
{"transform":[{"filter":"datum.k=='b'"}],"mark":{"type":"tick","orient":"horizontal","size":3,"thickness":1,"color":"#000"},"encoding":{"x":{"field":"f","type":"nominal","axis":null},"xOffset":{"field":"g","type":"nominal"},"y":{"field":"hi","type":"quantitative","axis":null}}},
{"transform":[{"filter":"datum.k=='r'"}],"mark":{"type":"rule","strokeDash":[4,2,1,2],"color":"#333","strokeWidth":1},"encoding":{"y":{"field":"v","type":"quantitative","axis":null}}},
{"transform":[{"filter":"datum.k=='b'"}],"mark":{"type":"bar","stroke":"#3b3bd6","strokeWidth":0.8},"encoding":{"x":{"field":"f","type":"nominal","axis":null},"xOffset":{"field":"g","type":"nominal"},"y":{"field":"q1","type":"quantitative","axis":null},"y2":{"field":"q3"},"color":{"field":"g","type":"nominal","title":null}}},
{"transform":[{"filter":"datum.k=='b'"}],"mark":{"type":"tick","orient":"horizontal","size":5,"thickness":1,"color":"#e01818","opacity":0.8},"encoding":{"x":{"field":"f","type":"nominal","axis":{"orient":"top","labels":false,"title":null,"minExtent":0,"maxExtent":0}},"xOffset":{"field":"g","type":"nominal"},"y":{"field":"m","type":"quantitative","axis":{"orient":"right","values":[2000,2500,3000],"labels":false,"title":null,"minExtent":0,"maxExtent":0}}}},
{"transform":[{"filter":"datum.k=='o'"}],"mark":{"type":"point","shape":"M-1,0H1M0,-1V1","size":14,"stroke":"#ff0000","strokeWidth":1,"filled":false},"encoding":{"x":{"field":"f","type":"nominal","axis":null},"xOffset":{"field":"g","type":"nominal"},"y":{"field":"v","type":"quantitative","axis":null}}}
]},
{"width":282,"height":104,"title":"Sm Bowel D0.035cm³","transform":[{"filter":"datum.p==7"}],"resolve":{"axis":{"x":"independent","y":"independent"}},
"layer":[
{"transform":[{"filter":"datum.k=='b'"}],"mark":{"type":"rule","strokeDash":[2,2],"color":"#000","strokeWidth":0.8},
"encoding":{"x":{"field":"f","type":"nominal","scale":{"type":"band","range":[-0.2,283.2],"paddingInner":0.6897,"paddingOuter":0},"axis":{"title":null}},"xOffset":{"field":"g","type":"nominal","scale":{"domain":["Pre","Verif","Post"],"paddingInner":0.353,"paddingOuter":0.1765}},
"y":{"field":"lo","type":"quantitative","scale":{"domain":[2181,5447],"nice":false,"zero":false},"axis":{"values":[3000,4000,5000],"format":"d","title":"Dose [cGy]","minExtent":40,"maxExtent":40,"titlePadding":3}},"y2":{"field":"hi"}}},
{"transform":[{"filter":"datum.k=='b'"}],"mark":{"type":"tick","orient":"horizontal","size":3,"thickness":1,"color":"#000"},"encoding":{"x":{"field":"f","type":"nominal","axis":null},"xOffset":{"field":"g","type":"nominal"},"y":{"field":"lo","type":"quantitative","axis":null}}},
{"transform":[{"filter":"datum.k=='b'"}],"mark":{"type":"tick","orient":"horizontal","size":3,"thickness":1,"color":"#000"},"encoding":{"x":{"field":"f","type":"nominal","axis":null},"xOffset":{"field":"g","type":"nominal"},"y":{"field":"hi","type":"quantitative","axis":null}}},
{"transform":[{"filter":"datum.k=='r'"}],"mark":{"type":"rule","strokeDash":[4,2,1,2],"color":"#333","strokeWidth":1},"encoding":{"y":{"field":"v","type":"quantitative","axis":null}}},
{"transform":[{"filter":"datum.k=='b'"}],"mark":{"type":"bar","stroke":"#3b3bd6","strokeWidth":0.8},"encoding":{"x":{"field":"f","type":"nominal","axis":null},"xOffset":{"field":"g","type":"nominal"},"y":{"field":"q1","type":"quantitative","axis":null},"y2":{"field":"q3"},"color":{"field":"g","type":"nominal","title":null}}},
{"transform":[{"filter":"datum.k=='b'"}],"mark":{"type":"tick","orient":"horizontal","size":5,"thickness":1,"color":"#e01818","opacity":0.8},"encoding":{"x":{"field":"f","type":"nominal","axis":{"orient":"top","labels":false,"title":null,"minExtent":0,"maxExtent":0}},"xOffset":{"field":"g","type":"nominal"},"y":{"field":"m","type":"quantitative","axis":{"orient":"right","values":[3000,4000,5000],"labels":false,"title":null,"minExtent":0,"maxExtent":0}}}},
{"transform":[{"filter":"datum.k=='o'"}],"mark":{"type":"point","shape":"M-1,0H1M0,-1V1","size":14,"stroke":"#ff0000","strokeWidth":1,"filled":false},"encoding":{"x":{"field":"f","type":"nominal","axis":null},"xOffset":{"field":"g","type":"nominal"},"y":{"field":"v","type":"quantitative","axis":null}}}
]},
{"width":282,"height":104,"title":"Sm Bowel D2cm³","transform":[{"filter":"datum.p==8"}],"resolve":{"axis":{"x":"independent","y":"independent"}},
"layer":[
{"transform":[{"filter":"datum.k=='b'"}],"mark":{"type":"rule","strokeDash":[2,2],"color":"#000","strokeWidth":0.8},
"encoding":{"x":{"field":"f","type":"nominal","scale":{"type":"band","range":[-0.2,283.2],"paddingInner":0.6897,"paddingOuter":0},"axis":{"title":null}},"xOffset":{"field":"g","type":"nominal","scale":{"domain":["Pre","Verif","Post"],"paddingInner":0.353,"paddingOuter":0.1765}},
"y":{"field":"lo","type":"quantitative","scale":{"domain":[1613,4040],"nice":false,"zero":false},"axis":{"values":[2000,3000,4000],"format":"d","title":"Dose [cGy]","minExtent":40,"maxExtent":40,"titlePadding":3}},"y2":{"field":"hi"}}},
{"transform":[{"filter":"datum.k=='b'"}],"mark":{"type":"tick","orient":"horizontal","size":3,"thickness":1,"color":"#000"},"encoding":{"x":{"field":"f","type":"nominal","axis":null},"xOffset":{"field":"g","type":"nominal"},"y":{"field":"lo","type":"quantitative","axis":null}}},
{"transform":[{"filter":"datum.k=='b'"}],"mark":{"type":"tick","orient":"horizontal","size":3,"thickness":1,"color":"#000"},"encoding":{"x":{"field":"f","type":"nominal","axis":null},"xOffset":{"field":"g","type":"nominal"},"y":{"field":"hi","type":"quantitative","axis":null}}},
{"transform":[{"filter":"datum.k=='r'"}],"mark":{"type":"rule","strokeDash":[4,2,1,2],"color":"#333","strokeWidth":1},"encoding":{"y":{"field":"v","type":"quantitative","axis":null}}},
{"transform":[{"filter":"datum.k=='b'"}],"mark":{"type":"bar","stroke":"#3b3bd6","strokeWidth":0.8},"encoding":{"x":{"field":"f","type":"nominal","axis":null},"xOffset":{"field":"g","type":"nominal"},"y":{"field":"q1","type":"quantitative","axis":null},"y2":{"field":"q3"},"color":{"field":"g","type":"nominal","title":null}}},
{"transform":[{"filter":"datum.k=='b'"}],"mark":{"type":"tick","orient":"horizontal","size":5,"thickness":1,"color":"#e01818","opacity":0.8},"encoding":{"x":{"field":"f","type":"nominal","axis":{"orient":"top","labels":false,"title":null,"minExtent":0,"maxExtent":0}},"xOffset":{"field":"g","type":"nominal"},"y":{"field":"m","type":"quantitative","axis":{"orient":"right","values":[2000,3000,4000],"labels":false,"title":null,"minExtent":0,"maxExtent":0}}}},
{"transform":[{"filter":"datum.k=='o'"}],"mark":{"type":"point","shape":"M-1,0H1M0,-1V1","size":14,"stroke":"#ff0000","strokeWidth":1,"filled":false},"encoding":{"x":{"field":"f","type":"nominal","axis":null},"xOffset":{"field":"g","type":"nominal"},"y":{"field":"v","type":"quantitative","axis":null}}}
]},
{"width":282,"height":104,"title":"Sm Bowel D5cm³","transform":[{"filter":"datum.p==9"}],"resolve":{"axis":{"x":"independent","y":"independent"}},
"layer":[
{"transform":[{"filter":"datum.k=='b'"}],"mark":{"type":"rule","strokeDash":[2,2],"color":"#000","strokeWidth":0.8},
"encoding":{"x":{"field":"f","type":"nominal","scale":{"type":"band","range":[-0.2,283.2],"paddingInner":0.6897,"paddingOuter":0},"axis":{"title":null}},"xOffset":{"field":"g","type":"nominal","scale":{"domain":["Pre","Verif","Post"],"paddingInner":0.353,"paddingOuter":0.1765}},
"y":{"field":"lo","type":"quantitative","scale":{"domain":[1407,3524],"nice":false,"zero":false},"axis":{"values":[1800,2500,3200],"format":"d","title":"Dose [cGy]","minExtent":40,"maxExtent":40,"titlePadding":3}},"y2":{"field":"hi"}}},
{"transform":[{"filter":"datum.k=='b'"}],"mark":{"type":"tick","orient":"horizontal","size":3,"thickness":1,"color":"#000"},"encoding":{"x":{"field":"f","type":"nominal","axis":null},"xOffset":{"field":"g","type":"nominal"},"y":{"field":"lo","type":"quantitative","axis":null}}},
{"transform":[{"filter":"datum.k=='b'"}],"mark":{"type":"tick","orient":"horizontal","size":3,"thickness":1,"color":"#000"},"encoding":{"x":{"field":"f","type":"nominal","axis":null},"xOffset":{"field":"g","type":"nominal"},"y":{"field":"hi","type":"quantitative","axis":null}}},
{"transform":[{"filter":"datum.k=='r'"}],"mark":{"type":"rule","strokeDash":[4,2,1,2],"color":"#333","strokeWidth":1},"encoding":{"y":{"field":"v","type":"quantitative","axis":null}}},
{"transform":[{"filter":"datum.k=='b'"}],"mark":{"type":"bar","stroke":"#3b3bd6","strokeWidth":0.8},"encoding":{"x":{"field":"f","type":"nominal","axis":null},"xOffset":{"field":"g","type":"nominal"},"y":{"field":"q1","type":"quantitative","axis":null},"y2":{"field":"q3"},"color":{"field":"g","type":"nominal","title":null}}},
{"transform":[{"filter":"datum.k=='b'"}],"mark":{"type":"tick","orient":"horizontal","size":5,"thickness":1,"color":"#e01818","opacity":0.8},"encoding":{"x":{"field":"f","type":"nominal","axis":{"orient":"top","labels":false,"title":null,"minExtent":0,"maxExtent":0}},"xOffset":{"field":"g","type":"nominal"},"y":{"field":"m","type":"quantitative","axis":{"orient":"right","values":[1800,2500,3200],"labels":false,"title":null,"minExtent":0,"maxExtent":0}}}},
{"transform":[{"filter":"datum.k=='o'"}],"mark":{"type":"point","shape":"M-1,0H1M0,-1V1","size":14,"stroke":"#ff0000","strokeWidth":1,"filled":false},"encoding":{"x":{"field":"f","type":"nominal","axis":null},"xOffset":{"field":"g","type":"nominal"},"y":{"field":"v","type":"quantitative","axis":null}}}
]}
],
"config":{
"font":"Liberation Sans",
"view":{"stroke":"#bdbdbd","strokeWidth":1},
"axis":{"domain":false,"grid":false,"tickSize":-4,"tickColor":"#333333","labelFontSize":15,"labelColor":"#222222","labelPadding":10,"titleFontSize":18,"titleFontWeight":"normal","titleColor":"#222222"},
"axisX":{"labelAngle":0,"minExtent":22,"maxExtent":22},
"title":{"fontSize":16,"fontWeight":"normal","offset":0,"dy":16,"baseline":"alphabetic","color":"#111111","anchor":"middle","frame":"group"}
}
}
